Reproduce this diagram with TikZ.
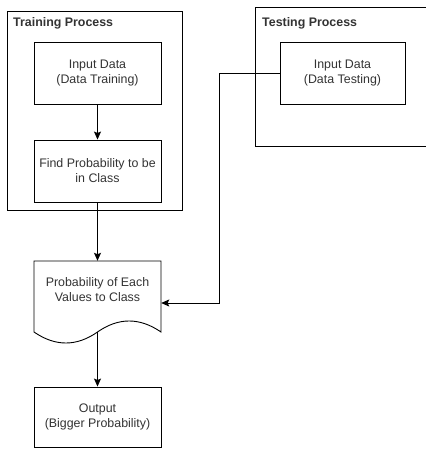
\documentclass[tikz,border=0pt]{standalone}
\usepackage{fontspec}
\setmainfont{Liberation Sans}
\usetikzlibrary{arrows.meta,calc}

\definecolor{txt}{HTML}{333333}

\tikzset{
  boxnode/.style={draw=black, line width=0.9pt, rectangle, minimum width=127pt,
    minimum height=62pt, align=center, text=txt, inner sep=0pt,
    font=\fontsize{12.4}{15}\selectfont},
  plaintext/.style={align=center, text=txt, inner sep=0pt,
    font=\fontsize{12.4}{15}\selectfont},
  grouptitle/.style={anchor=west, text=txt, inner sep=0pt,
    font=\fontsize{12.4}{15}\selectfont\bfseries},
  frame/.style={draw=black, line width=0.9pt},
  flow/.style={draw=black, line width=0.9pt, -{Stealth[length=8pt,width=7pt,inset=1.5pt]}}
}

\begin{document}
\begin{tikzpicture}[x=1pt,y=-1pt]
  \useasboundingbox (0,0) rectangle (425,449);

  % group frames
  \draw[frame] (7,11) rectangle (182,210);
  \node[grouptitle] (trtitle) at (13,23) {Training Process};
  \draw[frame] (440,7) -- (255,7) -- (255,146) -- (440,146);
  \node[grouptitle] (tetitle) at (262,23) {Testing Process};

  % training steps
  \node[boxnode] (trin) at (97.5,73) {Input Data\\(Data Training)};
  \node[boxnode] (find) at (97.5,171) {Find Probability to be\\in Class};

  % testing input
  \node[boxnode, minimum width=125pt] (tein) at (342.5,73) {Input Data\\(Data Testing)};

  % document shape with wavy bottom
  \node[rectangle, minimum width=127pt, minimum height=72pt, inner sep=0pt] (doc) at (97.5,297) {};
  \draw[frame] (34,332) -- (34,261) -- (161,261) -- (161,332)
    .. controls (139.67,317.33) and (118.5,317.33) .. (97.5,332)
    .. controls (76.5,346.67) and (55.33,346.67) .. (34,332) -- cycle;
  \node[plaintext] (doctext) at (97.5,290) {Probability of Each\\Values to Class};

  % output
  \node[boxnode, minimum height=60pt] (out) at (97.5,417) {Output\\(Bigger Probability)};

  % connectors
  \draw[flow] (trin.south) -- (find.north);
  \draw[flow] (find.south) -- (doc.north);
  \draw[flow] ([yshift=1pt]doc.south) -- (out.north);
  \coordinate (bend) at (219,73);
  \coordinate (docin) at ([yshift=-6pt]doc.east);
  \draw[flow] (tein.west) -- (bend) |- (docin);
\end{tikzpicture}
\end{document}
